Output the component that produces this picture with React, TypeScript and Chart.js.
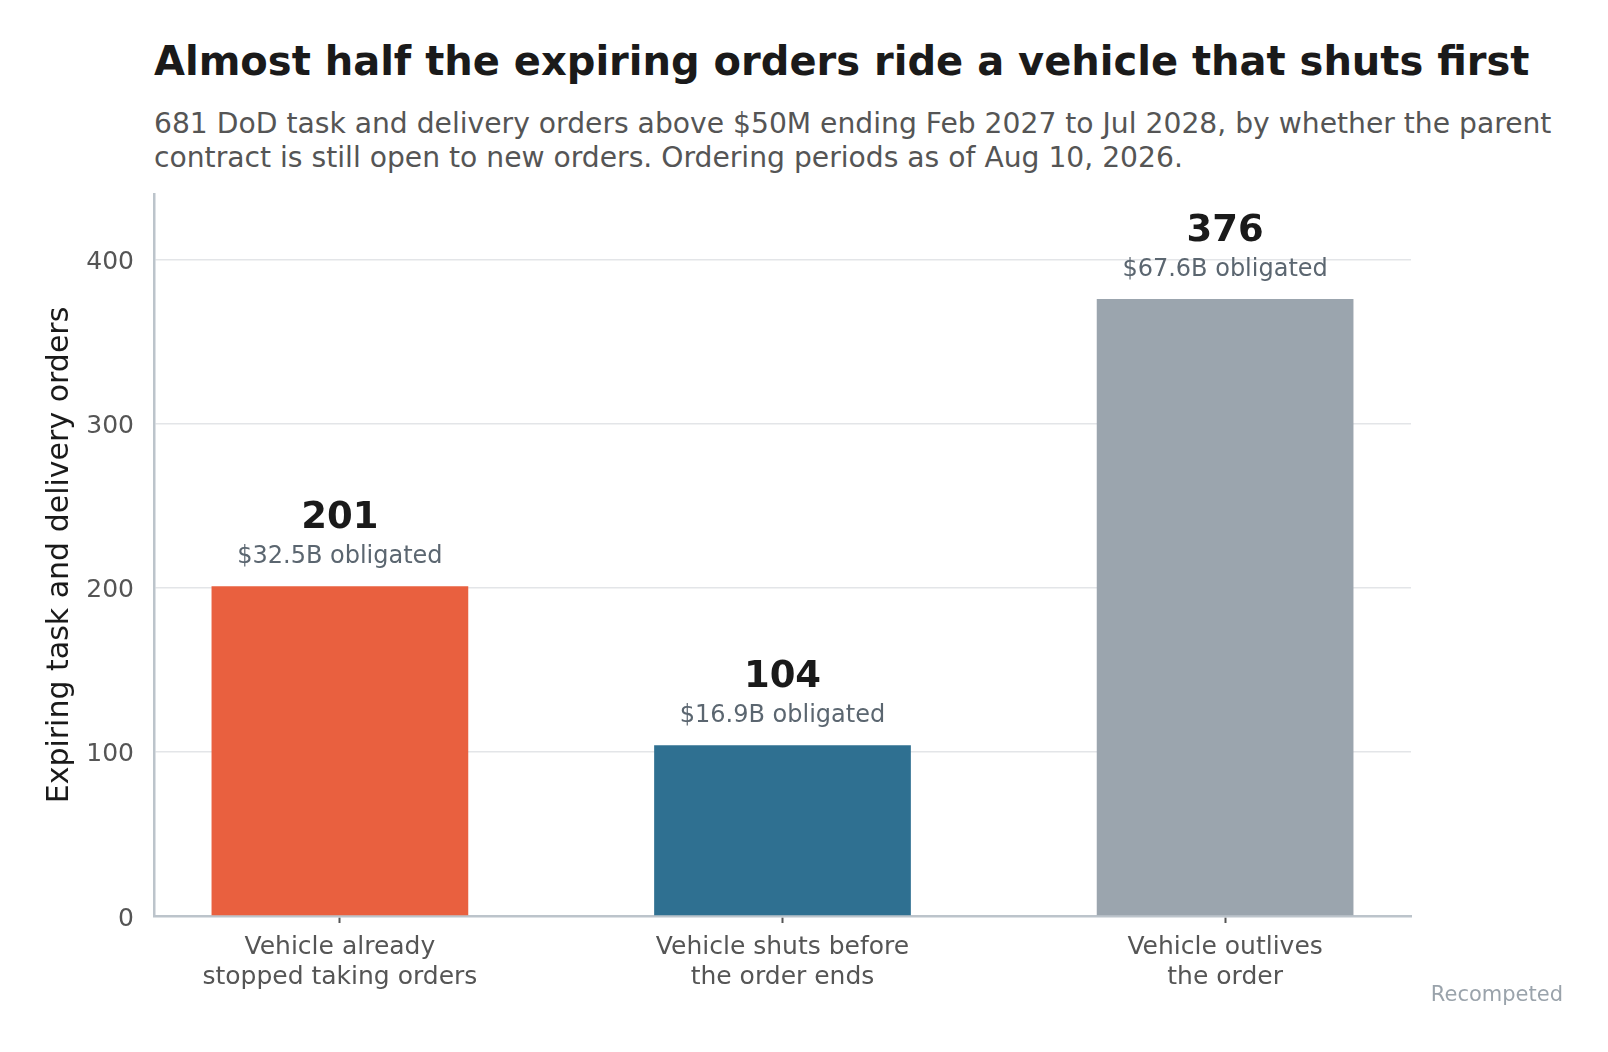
import { useEffect, useRef } from 'react';
import { Chart, registerables } from 'chart.js';

Chart.register(...registerables);

const categories: string[][] = [
  ['Vehicle already', 'stopped taking orders'],
  ['Vehicle shuts before', 'the order ends'],
  ['Vehicle outlives', 'the order'],
];
const orderCounts = [201, 104, 376];
const obligated = ['$32.5B obligated', '$16.9B obligated', '$67.6B obligated'];
const barColors = ['#E9603F', '#2F7091', '#9BA5AE'];
const yTicks = [0, 100, 200, 300, 400];

const FONT = '"DejaVu Sans", Verdana, sans-serif';

// value + dollar labels over each bar
const barLabels = {
  id: 'barLabels',
  afterDatasetsDraw(chart: Chart) {
    const ctx = chart.ctx;
    const meta = chart.getDatasetMeta(0);
    ctx.save();
    ctx.textAlign = 'center';
    ctx.textBaseline = 'alphabetic';
    meta.data.forEach((bar: any, i: number) => {
      ctx.fillStyle = '#1a1a1a';
      ctx.font = `bold 37px ${FONT}`;
      ctx.fillText(String(orderCounts[i]), bar.x, bar.y - 58);
      ctx.fillStyle = '#5b6670';
      ctx.font = `24px ${FONT}`;
      ctx.fillText(obligated[i], bar.x, bar.y - 23);
    });
    ctx.restore();
  },
};

export default function App() {
  const canvasRef = useRef<HTMLCanvasElement>(null);
  const chartRef = useRef<Chart | null>(null);

  useEffect(() => {
    if (!canvasRef.current) return;
    if (chartRef.current) chartRef.current.destroy();

    chartRef.current = new Chart(canvasRef.current, {
      type: 'bar',
      data: {
        datasets: [
          {
            data: orderCounts.map((v, i) => ({ x: i, y: v })),
            backgroundColor: barColors,
            borderWidth: 0,
            categoryPercentage: 1,
            barPercentage: 0.58,
          },
        ],
      },
      options: {
        animation: false,
        responsive: false,
        layout: { padding: { left: 0, top: 194, right: 197, bottom: 36 } },
        plugins: {
          legend: { display: false },
          tooltip: { enabled: false },
        },
        scales: {
          x: {
            type: 'linear',
            min: -0.42,
            max: 2.42,
            offset: false,
            afterFit: (s: any) => {
              s.height = 100;
            },
            ticks: {
              stepSize: 1,
              includeBounds: false,
              maxRotation: 0,
              autoSkip: false,
              padding: 9,
              color: '#555555',
              font: { family: FONT, size: 25, lineHeight: 1.2 },
              callback: (value: any) => categories[Number(value)] ?? '',
            },
            grid: {
              offset: false,
              drawOnChartArea: false,
              drawTicks: true,
              tickLength: 7,
              tickColor: '#555555',
              tickWidth: 2,
            },
            border: { color: '#bcc4cb', width: 2.5 },
          },
          y: {
            min: 0,
            max: 440,
            afterFit: (s: any) => {
              s.width = 154;
            },
            afterBuildTicks: (s: any) => {
              s.ticks = yTicks.map((v) => ({ value: v }));
            },
            ticks: {
              includeBounds: false,
              padding: 20,
              labelOffset: 3,
              color: '#555555',
              font: { family: FONT, size: 25 },
            },
            grid: {
              drawTicks: false,
              lineWidth: 1.5,
              color: (c: any) => (c.tick && c.tick.value === 0 ? 'rgba(0,0,0,0)' : '#e3e5e8'),
            },
            border: { color: '#bcc4cb', width: 2.5 },
            title: {
              display: true,
              text: 'Expiring task and delivery orders',
              color: '#1a1a1a',
              font: { family: FONT, size: 30, lineHeight: 1.2 },
              padding: { top: 42, bottom: 0 },
            },
          },
        },
      },
      plugins: [barLabels],
    });

    return () => {
      if (chartRef.current) {
        chartRef.current.destroy();
        chartRef.current = null;
      }
    };
  }, []);

  return (
    <div
      style={{
        position: 'absolute',
        left: 0,
        top: 0,
        width: 1608,
        height: 1052,
        background: '#ffffff',
        fontFamily: FONT,
      }}
    >
      <div
        style={{
          position: 'absolute',
          left: 154,
          top: 41,
          fontSize: 40,
          lineHeight: 1,
          fontWeight: 'bold',
          color: '#1a1a1a',
          whiteSpace: 'nowrap',
        }}
      >
        Almost half the expiring orders ride a vehicle that shuts first
      </div>
      <div
        style={{
          position: 'absolute',
          left: 154,
          top: 107,
          fontSize: 28.2,
          lineHeight: '34px',
          color: '#555555',
          whiteSpace: 'nowrap',
        }}
      >
        681 DoD task and delivery orders above $50M ending Feb 2027 to Jul 2028, by whether the parent
        <br />
        contract is still open to new orders. Ordering periods as of Aug 10, 2026.
      </div>
      <canvas ref={canvasRef} width={1608} height={1052} style={{ position: 'absolute', left: 0, top: 0 }} />
      <div
        style={{
          position: 'absolute',
          right: 45,
          top: 984,
          fontSize: 21,
          lineHeight: 1,
          color: '#9aa3ab',
          whiteSpace: 'nowrap',
        }}
      >
        Recompeted
      </div>
    </div>
  );
}
